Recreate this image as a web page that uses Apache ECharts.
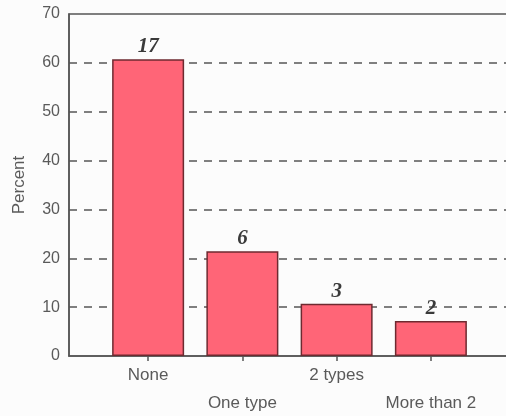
<!DOCTYPE html>
<html>
<head>
<meta charset="utf-8">
<script src="https://cdn.jsdelivr.net/npm/echarts@6/dist/echarts.min.js"></script>
<style>
  html, body { margin: 0; padding: 0; background: #fcfcfc; }
  #chart { width: 506px; height: 416px; }
</style>
</head>
<body>
<div id="chart"></div>
<script>
// Number of respondents in each group
const categories = ['None', 'One type', '2 types', 'More than 2'];
const counts = [17, 6, 3, 2];
const yTicks = { min: 0, max: 70, step: 10 };

// Bar heights are each group's share of all respondents
const total = counts.reduce((a, b) => a + b, 0);
const percents = counts.map(c => c / total * 100);

const axisColor = '#555';
const textColor = '#5a5a5a';
const sans = 'Liberation Sans';

const chart = echarts.init(document.getElementById('chart'), null, { renderer: 'canvas' });
chart.setOption({
  backgroundColor: '#fcfcfc',
  animation: false,
  grid: [
    // frame: axes, border and dashed gridlines
    { left: 69, top: 14, right: -40, bottom: 60, outerBoundsMode: 'none', containLabel: false,
      show: true, borderColor: axisColor, borderWidth: 1.5, backgroundColor: 'transparent' },
    // bars
    { left: 101, top: 14, width: 377, bottom: 60, outerBoundsMode: 'none', containLabel: false }
  ],
  xAxis: [
    { gridIndex: 0, type: 'value', min: 0, max: 1,
      axisLine: { show: true, lineStyle: { color: axisColor, width: 1.5 } },
      axisTick: { show: false }, axisLabel: { show: false }, splitLine: { show: false } },
    { gridIndex: 1, type: 'category', data: categories,
      axisLine: { show: false },
      axisTick: { show: true, alignWithLabel: true, length: 5, lineStyle: { color: axisColor, width: 1.5 } },
      axisLabel: {
        interval: 0, margin: 5, color: textColor, fontSize: 17, fontFamily: sans,
        lineHeight: 28,
        formatter: (v, i) => (i % 2 ? '\n' + v : v)
      } }
  ],
  yAxis: [
    { gridIndex: 0, type: 'value', min: yTicks.min, max: yTicks.max, interval: yTicks.step,
      name: 'Percent', nameLocation: 'middle', nameGap: 41,
      nameTextStyle: { color: textColor, fontSize: 17, fontFamily: sans },
      axisLine: { show: true, lineStyle: { color: axisColor, width: 1.5 } },
      axisTick: { show: false },
      axisLabel: { color: textColor, fontSize: 16, fontFamily: sans, margin: 9 },
      splitLine: { show: true, showMinLine: false, showMaxLine: false,
        lineStyle: { color: '#555', width: 1.5, type: [8, 7] } } },
    { gridIndex: 1, type: 'value', min: yTicks.min, max: yTicks.max, show: false,
      splitLine: { show: false } }
  ],
  series: [{
    type: 'bar',
    xAxisIndex: 1, yAxisIndex: 1,
    data: percents,
    barWidth: 72,
    itemStyle: { color: '#ff6577', borderColor: '#6e2a30', borderWidth: 1.5 },
    label: {
      show: true, position: 'top', distance: 2,
      formatter: p => String(counts[p.dataIndex]),
      fontFamily: 'Liberation Serif', fontStyle: 'italic', fontWeight: 'bold',
      fontSize: 21, color: '#3a3a3a'
    }
  }]
});
</script>
</body>
</html>
